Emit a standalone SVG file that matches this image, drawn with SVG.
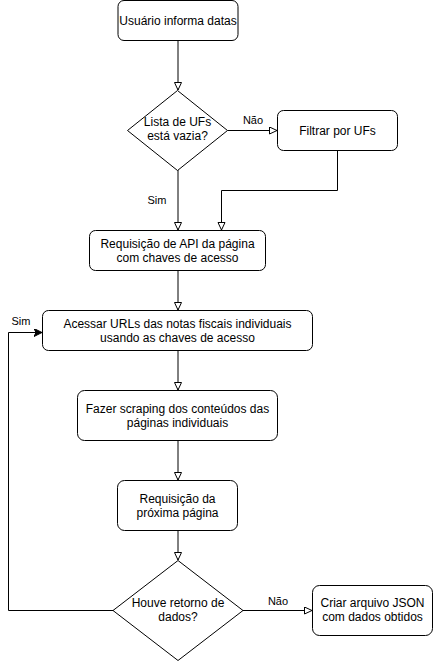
<svg xmlns="http://www.w3.org/2000/svg" width="433" height="661" viewBox="0 0 433 661">
<style>
.n{fill:#fff;stroke:#000;stroke-width:1}
.t{font-family:"Liberation Sans",Arial,sans-serif;font-size:12px;fill:#000;text-anchor:middle}
.l{font-family:"Liberation Sans",Arial,sans-serif;font-size:11px;fill:#000;text-anchor:middle}
.c{fill:none;stroke:#000;stroke-width:1}
</style>
<defs>
<marker id="open" markerWidth="10" markerHeight="10" refX="8" refY="4" orient="auto" markerUnits="userSpaceOnUse">
<path d="M0.5,0.5 L8,4 L0.5,7.5 Z" fill="#fff" stroke="#000" stroke-width="1"/>
</marker>
<marker id="fill" markerWidth="10" markerHeight="10" refX="8" refY="4" orient="auto" markerUnits="userSpaceOnUse">
<path d="M0,0 L8,4 L0,8 L2,4 Z" fill="#000" stroke="#000" stroke-width="1"/>
</marker>
</defs>
<g id="edges">
<path class="c" d="M178,40.5 V90" marker-end="url(#open)"/>
<path class="c" d="M227.5,130.5 H277" marker-end="url(#open)"/>
<path class="c" d="M178,170 V230" marker-end="url(#open)"/>
<path class="c" d="M337.5,150 V190.5 H221.5 V230" marker-end="url(#open)"/>
<path class="c" d="M178,270 V310" marker-end="url(#open)"/>
<path class="c" d="M178,350 V390" marker-end="url(#open)"/>
<path class="c" d="M178,440 V480" marker-end="url(#open)"/>
<path class="c" d="M178,530 V560" marker-end="url(#open)"/>
<path class="c" d="M243,610.5 H312" marker-end="url(#open)"/>
<path class="c" d="M113,610.5 H8.5 V332.5 H42" marker-end="url(#fill)"/>
<text class="l" x="253" y="124">Não</text>
<text class="l" x="157" y="204">Sim</text>
<text class="l" x="21" y="325">Sim</text>
<text class="l" x="278" y="605">Não</text>
</g>
<g id="n1">
<rect class="n" x="118" y="0.5" width="120" height="40" rx="6"/>
<text class="t" x="178" y="24.5">Usuário informa datas</text>
</g>
<g id="n2">
<polygon class="n" points="177.5,90.5 227.5,130.5 177.5,170.5 127.5,130.5"/>
<text class="t" x="177.5" y="126">Lista de UFs</text>
<text class="t" x="177.5" y="140">está vazia?</text>
</g>
<g id="n3">
<rect class="n" x="277.5" y="110.5" width="120" height="40" rx="6"/>
<text class="t" x="337.5" y="134.5">Filtrar por UFs</text>
</g>
<g id="n4">
<rect class="n" x="89.5" y="230.5" width="176" height="40" rx="6"/>
<text class="t" x="177.5" y="248">Requisição de API da página</text>
<text class="t" x="177.5" y="262">com chaves de acesso</text>
</g>
<g id="n5">
<rect class="n" x="42.5" y="310.5" width="270" height="40" rx="6"/>
<text class="t" x="177.5" y="328">Acessar URLs das notas fiscais individuais</text>
<text class="t" x="177.5" y="342">usando as chaves de acesso</text>
</g>
<g id="n6">
<rect class="n" x="77.5" y="390.5" width="200" height="50" rx="7"/>
<text class="t" x="177.5" y="413">Fazer scraping dos conteúdos das</text>
<text class="t" x="177.5" y="427">páginas individuais</text>
</g>
<g id="n7">
<rect class="n" x="117.5" y="480.5" width="120" height="50" rx="7"/>
<text class="t" x="177.5" y="503">Requisição da</text>
<text class="t" x="177.5" y="517">próxima página</text>
</g>
<g id="n8">
<polygon class="n" points="178,560.5 243,610.5 178,660.5 113,610.5"/>
<text class="t" x="178" y="607">Houve retorno de</text>
<text class="t" x="178" y="621">dados?</text>
</g>
<g id="n9">
<rect class="n" x="312.5" y="585.5" width="120" height="50" rx="7"/>
<text class="t" x="372.5" y="607">Criar arquivo JSON</text>
<text class="t" x="372.5" y="621">com dados obtidos</text>
</g>
</svg>
